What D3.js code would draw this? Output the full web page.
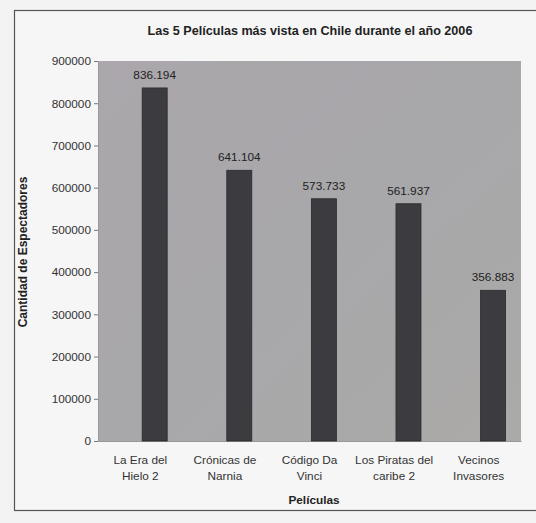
<!DOCTYPE html>
<html><head><meta charset="utf-8">
<script src="https://cdn.jsdelivr.net/npm/d3@7"></script>
<style>
html,body{margin:0;padding:0;background:#f3f3f3;}
svg{display:block;font-family:"Liberation Sans",Arial,sans-serif;}
</style></head>
<body>
<svg id="c" width="536" height="523"></svg>
<script>
const categories = [["La Era del","Hielo 2"],["Crónicas de","Narnia"],["Código Da","Vinci"],["Los Piratas del","caribe 2"],["Vecinos","Invasores"]];
const values = [836194, 641104, 573733, 561937, 356883];
const valueLabels = ["836.194","641.104","573.733","561.937","356.883"];
const yTicks = [0,100000,200000,300000,400000,500000,600000,700000,800000,900000];

const svg = d3.select("#c");
const m = {left:98, right:521, top:61, bottom:441};
const keys = categories.map((c,i)=>i);
const x = d3.scaleBand().domain(keys).range([m.left, m.right]);
const y = d3.scaleLinear().domain([0,900000]).range([m.bottom, m.top]);

// outer frame
svg.append("rect").attr("x",14.5).attr("y",10.5).attr("width",540).attr("height",500)
  .attr("fill","#f6f6f6").attr("stroke","#555").attr("stroke-width",1.2);

// plot background
const defs = svg.append("defs");
const g1 = defs.append("linearGradient").attr("id","bg").attr("x1","0").attr("y1","0").attr("x2","1").attr("y2","1");
g1.append("stop").attr("offset","0").attr("stop-color","#aba7ac");
g1.append("stop").attr("offset","0.5").attr("stop-color","#a8a7aa");
g1.append("stop").attr("offset","1").attr("stop-color","#abaaa8");
svg.append("rect").attr("x",m.left).attr("y",m.top).attr("width",m.right-m.left).attr("height",m.bottom-m.top)
  .attr("fill","url(#bg)");

// y axis
const ya = svg.append("g").attr("transform",`translate(${m.left},0)`)
  .call(d3.axisLeft(y).tickValues(yTicks).tickFormat(d3.format("d")).tickSize(4).tickPadding(3));
ya.select(".domain").attr("stroke","#999");
ya.selectAll(".tick line").attr("stroke","#777");
ya.selectAll("text").attr("font-size",11.8).attr("fill","#333");

// x axis labels
const xa = svg.append("g").attr("transform",`translate(0,${m.bottom})`)
  .call(d3.axisBottom(x).tickSize(0).tickFormat(""));
xa.select(".domain").attr("stroke","#999");
xa.selectAll(".tick").each(function(d){
  const t = d3.select(this).append("text").attr("fill","#333").attr("font-size",11.8).attr("text-anchor","middle");
  categories[d].forEach((s,j)=>t.append("tspan").attr("x",0).attr("y",23+j*16).text(s));
});

// bars
const bw = 25;
const shift = x.bandwidth()*0.17;
svg.append("g").selectAll("rect").data(values).join("rect")
  .attr("x",(d,i)=>x(i)+x.bandwidth()/2-bw/2+shift)
  .attr("y",d=>y(d)).attr("width",bw).attr("height",d=>y(0)-y(d))
  .attr("fill","#3c3b3f").attr("stroke","#2a2a2c").attr("stroke-width",0.8);

svg.append("g").selectAll("text").data(values).join("text")
  .attr("x",(d,i)=>x(i)+x.bandwidth()/2+shift)
  .attr("y",d=>y(d)-9).attr("text-anchor","middle").attr("font-size",11.8).attr("fill","#222")
  .text((d,i)=>valueLabels[i]);

// titles
svg.append("text").attr("x",310).attr("y",35).attr("text-anchor","middle").attr("font-size",12.6)
  .attr("font-weight","bold").attr("fill","#222").text("Las 5 Películas más vista en Chile durante el año 2006");
svg.append("text").attr("x",314).attr("y",504).attr("text-anchor","middle").attr("font-size",11.8)
  .attr("font-weight","bold").attr("fill","#222").text("Películas");
svg.append("text").attr("transform","translate(27,252) rotate(-90)").attr("text-anchor","middle")
  .attr("font-size",12).attr("font-weight","bold").attr("fill","#222").text("Cantidad de Espectadores");
</script>
</body></html>
